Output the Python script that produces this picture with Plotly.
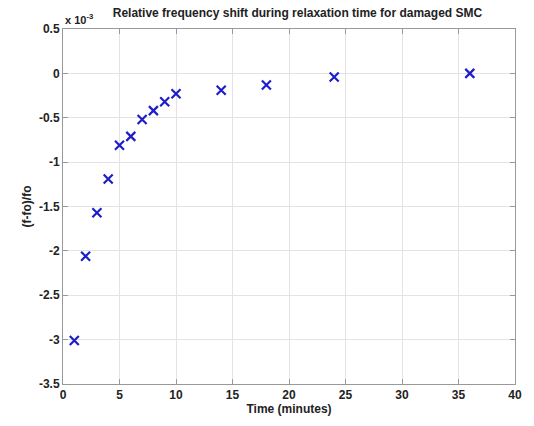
import plotly.graph_objects as go

time_min = [1, 2, 3, 4, 5, 6, 7, 8, 9, 10, 14, 18, 24, 36]
rel_shift_e3 = [-3.01, -2.06, -1.57, -1.19, -0.81, -0.71, -0.52, -0.42, -0.32, -0.23, -0.19, -0.13, -0.04, 0.0]
x_ticks = [0, 5, 10, 15, 20, 25, 30, 35, 40]
y_ticks = [0.5, 0, -0.5, -1, -1.5, -2, -2.5, -3, -3.5]
y_tick_text = ["0.5", "0", "-0.5", "-1", "-1.5", "-2", "-2.5", "-3", "-3.5"]

fam = "Liberation Sans, Arial, sans-serif"
font = dict(family=fam, size=12, color="#222")

fig = go.Figure(go.Scatter(
    x=time_min, y=rel_shift_e3, mode="markers",
    marker=dict(symbol="x-thin", size=9, line=dict(width=2.2, color="#1e1ec8"), color="#1e1ec8"),
))

axis_common = dict(showline=True, linecolor="#999", linewidth=1, mirror="ticks",
                   ticks="inside", ticklen=5, tickcolor="#999",
                   showgrid=True, gridcolor="#e3e3e3", gridwidth=1, zeroline=False,
                   tickfont=dict(family=fam, size=12, color="#222"))

fig.update_xaxes(range=[0, 40], tickvals=x_ticks, ticktext=["<b>%d</b>" % t for t in x_ticks],
                 title=dict(text="<b>Time (minutes)</b>", font=font, standoff=3),
                 **axis_common)
fig.update_yaxes(range=[-3.5, 0.5], tickvals=y_ticks, ticktext=["<b>%s</b>" % t for t in y_tick_text],
                 title=dict(text="<b>(f-fo)/fo</b>", font=font, standoff=4), **axis_common)

fig.update_layout(
    width=534, height=426,
    margin=dict(l=63, r=14, t=29, b=37),
    paper_bgcolor="white", plot_bgcolor="white",
    showlegend=False,
    title=dict(text="<b>Relative frequency shift during relaxation time for damaged SMC</b>",
               font=dict(family=fam, size=12, color="#222"),
               x=0.557, xanchor="center", y=0.97, yanchor="middle"),
    annotations=[dict(text="<b>x 10<sup>-3</sup></b>", xref="paper", yref="paper",
                      x=0.0, y=1.0, xanchor="left", yanchor="bottom", showarrow=False,
                      font=dict(family=fam, size=11, color="#222"), yshift=1)],
)

fig.write_html("out.html")
